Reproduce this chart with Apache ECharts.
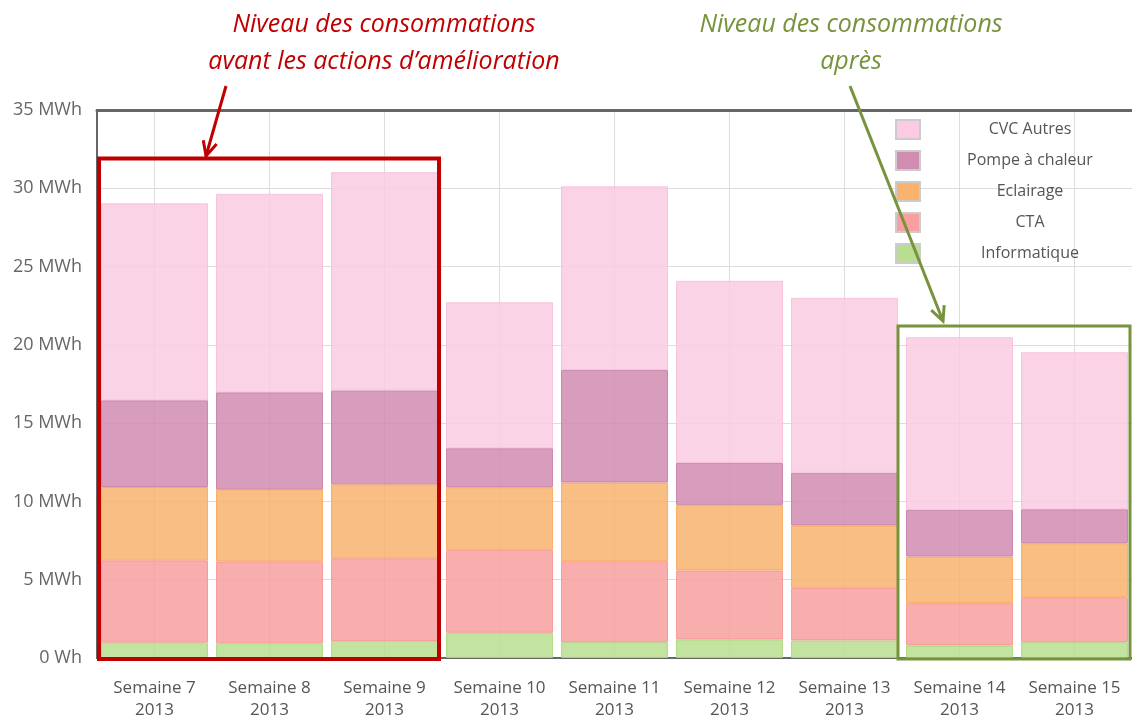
<!DOCTYPE html>
<html>
<head>
<meta charset="utf-8">
<script src="https://cdn.jsdelivr.net/npm/echarts@6/dist/echarts.min.js"></script>
<style>
  html, body { margin: 0; padding: 0; background: #fff; }
  #main { width: 1132px; height: 717px; }
</style>
</head>
<body>
<div id="main"></div>
<script>
// categories
var weeks = ['Semaine 7', 'Semaine 8', 'Semaine 9', 'Semaine 10', 'Semaine 11', 'Semaine 12', 'Semaine 13', 'Semaine 14', 'Semaine 15'];
var year = '2013';

// valeurs en MWh
var informatique = [0.98, 0.94, 1.09, 1.61, 1.01, 1.18, 1.12, 0.80, 1.01];
var cta          = [5.26, 5.21, 5.28, 5.30, 5.17, 4.41, 3.36, 2.70, 2.87];
var eclairage    = [4.68, 4.60, 4.72, 4.00, 5.03, 4.19, 3.98, 2.98, 3.45];
var pompe        = [5.54, 6.22, 6.00, 2.49, 7.19, 2.68, 3.37, 2.98, 2.17];
var cvcAutres    = [12.58, 12.68, 13.94, 9.32, 11.73, 11.63, 11.17, 11.03, 10.03];

var yTicks = [0, 5, 10, 15, 20, 25, 30, 35];

var font = 'Open Sans';
var categories = weeks.map(function (w) { return w + '\n' + year; });

var chart = echarts.init(document.getElementById('main'), null, { renderer: 'canvas' });

function barSerie(name, data, color, border) {
  return {
    name: name,
    type: 'bar',
    stack: 'conso',
    data: data,
    barCategoryGap: '7%',
    itemStyle: { color: color, borderColor: border, borderWidth: 1, opacity: 0.85 }
  };
}

var option = {
  animation: false,
  backgroundColor: '#fff',
  grid: { left: 97, right: 0, top: 110, bottom: 59, containLabel: false, outerBoundsMode: 'none' },
  legend: {
    orient: 'vertical',
    left: 890,
    top: 114,
    itemWidth: 24,
    itemHeight: 19,
    itemGap: 10,
    icon: 'rect',
    data: ['CVC Autres', 'Pompe à chaleur', 'Eclairage', 'CTA', 'Informatique'],
    itemStyle: { borderColor: '#cccccc', borderWidth: 2, opacity: 1 },
    formatter: function (name) { return '{t|' + name + '}'; },
    textStyle: {
      rich: { t: { width: 210, align: 'center', fontSize: 16, color: '#555', fontFamily: font } }
    }
  },
  xAxis: [{
    type: 'category',
    data: categories,
    axisLine: { lineStyle: { color: '#666', width: 2 } },
    axisTick: { show: false },
    axisLabel: { interval: 0, color: '#555', fontSize: 17, fontFamily: font, lineHeight: 22, margin: 19 },
    splitLine: { show: true, interval: 0, alignWithLabel: true, lineStyle: { color: '#dddddd', width: 1 } }
  }, {
    type: 'category',
    position: 'top',
    data: categories,
    axisLine: { lineStyle: { color: '#666', width: 3 } },
    axisTick: { show: false },
    axisLabel: { show: false }
  }],
  yAxis: {
    type: 'value',
    min: yTicks[0],
    max: yTicks[yTicks.length - 1],
    interval: 5,
    axisLine: { show: true, lineStyle: { color: '#666', width: 2 } },
    axisTick: { show: false },
    splitLine: { lineStyle: { color: '#dddddd', width: 1 } },
    axisLabel: {
      color: '#666', fontSize: 18, fontFamily: font, margin: 15,
      formatter: function (v) { return v === 0 ? '0 Wh' : v + ' MWh'; }
    }
  },
  series: [
    barSerie('Informatique', informatique, '#b8de8f', '#a9d77e'),
    barSerie('CTA', cta, '#f8a0a0', '#f69090'),
    barSerie('Eclairage', eclairage, '#f8b36e', '#f9a656'),
    barSerie('Pompe à chaleur', pompe, '#d18cb1', '#c77aa5'),
    barSerie('CVC Autres', cvcAutres, '#facbe2', '#f7bcd8')
  ]
};

chart.setOption(option);

// annotations
function arrow(x1, y1, x2, y2, color, w) {
  var a = Math.atan2(y2 - y1, x2 - x1), len = 16, sp = 0.45;
  return [{
    type: 'line', z: 100,
    shape: { x1: x1, y1: y1, x2: x2, y2: y2 },
    style: { stroke: color, lineWidth: w }
  }, {
    type: 'polyline', z: 100,
    shape: { points: [
      [x2 - len * Math.cos(a - sp), y2 - len * Math.sin(a - sp)],
      [x2, y2],
      [x2 - len * Math.cos(a + sp), y2 - len * Math.sin(a + sp)]
    ] },
    style: { stroke: color, lineWidth: w, fill: null }
  }];
}

var red = '#c00000', green = '#77933c';
var half = (chart.convertToPixel({ xAxisIndex: 0 }, categories[1]) - chart.convertToPixel({ xAxisIndex: 0 }, categories[0])) / 2;
var y0 = chart.convertToPixel({ yAxisIndex: 0 }, 0);
var rx1 = chart.convertToPixel({ xAxisIndex: 0 }, categories[0]) - half;
var rx2 = chart.convertToPixel({ xAxisIndex: 0 }, categories[2]) + half - 3;
var ry = chart.convertToPixel({ yAxisIndex: 0 }, 31.9);
var gx1 = chart.convertToPixel({ xAxisIndex: 0 }, categories[7]) - half - 4;
var gx2 = chart.convertToPixel({ xAxisIndex: 0 }, categories[8]) + half - 2;
var gy = chart.convertToPixel({ yAxisIndex: 0 }, 21.2);

var txt = { fontFamily: 'Open Sans', fontStyle: 'italic', fontSize: 25, align: 'center', verticalAlign: 'middle' };
var graphics = [
  { type: 'rect', z: 100, shape: { x: rx1 + 2, y: ry, width: rx2 - rx1 - 2, height: y0 - ry + 1 },
    style: { stroke: red, lineWidth: 4, fill: null } },
  { type: 'rect', z: 100, shape: { x: gx1, y: gy, width: gx2 - gx1, height: y0 - gy + 1 },
    style: { stroke: green, lineWidth: 3, fill: null } },
  { type: 'text', z: 100, x: 384, y: 25, style: Object.assign({ text: 'Niveau des consommations', fill: red }, txt) },
  { type: 'text', z: 100, x: 384, y: 62, style: Object.assign({ text: 'avant les actions d’amélioration', fill: red }, txt) },
  { type: 'text', z: 100, x: 851, y: 25, style: Object.assign({ text: 'Niveau des consommations', fill: green }, txt) },
  { type: 'text', z: 100, x: 851, y: 62, style: Object.assign({ text: 'après', fill: green }, txt) }
];
graphics = graphics.concat(arrow(226, 86, 206, 156, red, 3), arrow(850, 86, 943, 321, green, 3));
chart.setOption({ graphic: graphics });
</script>
</body>
</html>
